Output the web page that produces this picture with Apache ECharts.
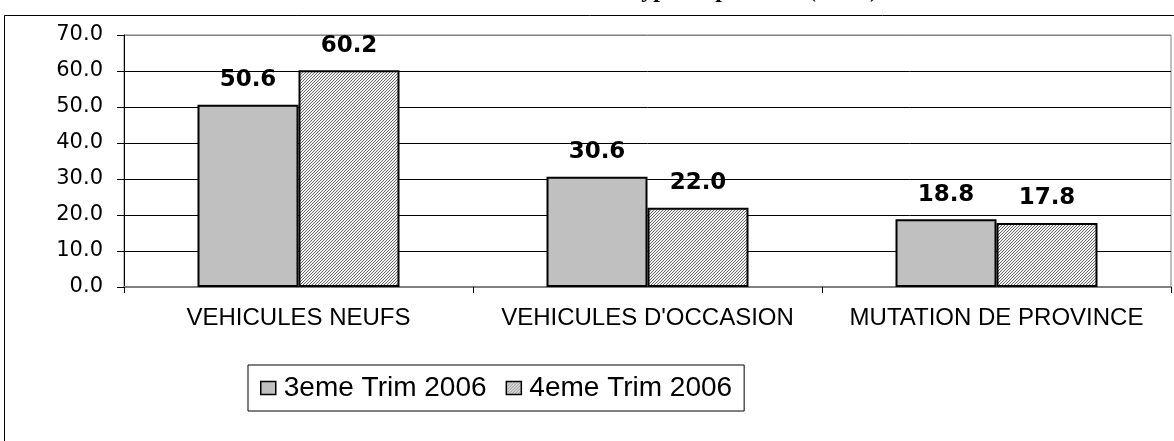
<!DOCTYPE html>
<html>
<head>
  <meta charset="utf-8">
  <title>Type d'opération</title>
  <script src="https://cdn.jsdelivr.net/npm/echarts@6/dist/echarts.min.js"></script>
  <style>
    html, body { margin: 0; padding: 0; background: #fff; }
    #chart { width: 1174px; height: 441px; }
  </style>
</head>
<body>
<div id="chart"></div>
<script type="text/javascript">
  var categories = ['VEHICULES NEUFS', "VEHICULES D'OCCASION", 'MUTATION DE PROVINCE'];
  var seriesNames = ['3eme Trim 2006', '4eme Trim 2006'];
  var trim3 = [50.6, 30.6, 18.8];
  var trim4 = [60.2, 22.0, 17.8];
  var yMin = 0, yMax = 70, yStep = 10;

  // fine diagonal hatch for the second series
  var hatch = document.createElement('canvas');
  hatch.width = 3;
  hatch.height = 3;
  var ctx = hatch.getContext('2d');
  ctx.fillStyle = '#f2f2f2';
  ctx.fillRect(0, 0, 3, 3);
  ctx.fillStyle = '#6a6a6a';
  ctx.fillRect(0, 2, 1, 1);
  ctx.fillRect(1, 1, 1, 1);
  ctx.fillRect(2, 0, 1, 1);

  var myChart = echarts.init(document.getElementById('chart'));

  var barLabel = {
    show: true,
    position: 'top',
    distance: 13,
    color: '#000',
    fontFamily: 'DejaVu Sans',
    fontWeight: 'bold',
    fontSize: 23,
    formatter: function (p) { return p.value.toFixed(1); }
  };

  var option = {
    animation: false,
    backgroundColor: '#fff',
    title: {
      text: "Immatriculations selon le type d'opération (en %)",
      right: 296,
      top: -21,
      padding: 0,
      textStyle: {
        fontFamily: 'Liberation Serif',
        fontWeight: 'bold',
        fontSize: 24,
        color: '#000'
      }
    },
    graphic: [{
      type: 'rect',
      silent: true,
      z: -1,
      shape: { x: 4.5, y: 15.5, width: 1200, height: 500 },
      style: { fill: null, stroke: '#000', lineWidth: 1 }
    }],
    legend: {
      left: 248,
      top: 365,
      orient: 'horizontal',
      data: seriesNames,
      icon: 'rect',
      itemWidth: 15,
      itemHeight: 13,
      itemGap: 19,
      padding: [9, 12],
      borderColor: '#000',
      borderWidth: 1,
      itemStyle: { borderColor: '#000', borderWidth: 1.5 },
      textStyle: {
        fontFamily: 'Liberation Sans',
        fontSize: 28,
        lineHeight: 27,
        color: '#000',
        padding: [0, 0, 0, 3]
      }
    },
    grid: {
      left: 124,
      right: 3,
      top: 35,
      bottom: 154,
      show: true,
      borderColor: '#808080',
      borderWidth: 1
    },
    xAxis: {
      type: 'category',
      data: categories,
      axisLine: { lineStyle: { color: '#808080', width: 2 } },
      axisTick: { show: true, length: 6, lineStyle: { color: '#000' } },
      axisLabel: {
        interval: 0,
        hideOverlap: false,
        margin: 19,
        color: '#000',
        fontFamily: 'Liberation Sans',
        fontSize: 24
      },
      splitLine: { show: false }
    },
    yAxis: {
      type: 'value',
      min: yMin,
      max: yMax,
      interval: yStep,
      axisLine: { show: true, lineStyle: { color: '#000', width: 1 } },
      axisTick: { show: true, length: 7, lineStyle: { color: '#000' } },
      axisLabel: {
        margin: 21,
        color: '#000',
        fontFamily: 'DejaVu Sans',
        fontSize: 21,
        formatter: function (v) { return v.toFixed(1); }
      },
      splitLine: {
        show: true,
        lineStyle: {
          color: ['#808080', '#000', '#000', '#000', '#000', '#000', '#000', '#808080'],
          width: 1
        }
      }
    },
    series: [
      {
        name: seriesNames[0],
        type: 'bar',
        data: trim3,
        barWidth: 101,
        barGap: '0%',
        itemStyle: { color: '#c0c0c0', borderColor: '#000', borderWidth: 2 },
        label: barLabel
      },
      {
        name: seriesNames[1],
        type: 'bar',
        data: trim4,
        barWidth: 101,
        barGap: '0%',
        itemStyle: { color: { image: hatch, repeat: 'repeat' }, borderColor: '#000', borderWidth: 2 },
        label: barLabel
      }
    ]
  };
  myChart.setOption(option);
</script>
</body>
</html>
